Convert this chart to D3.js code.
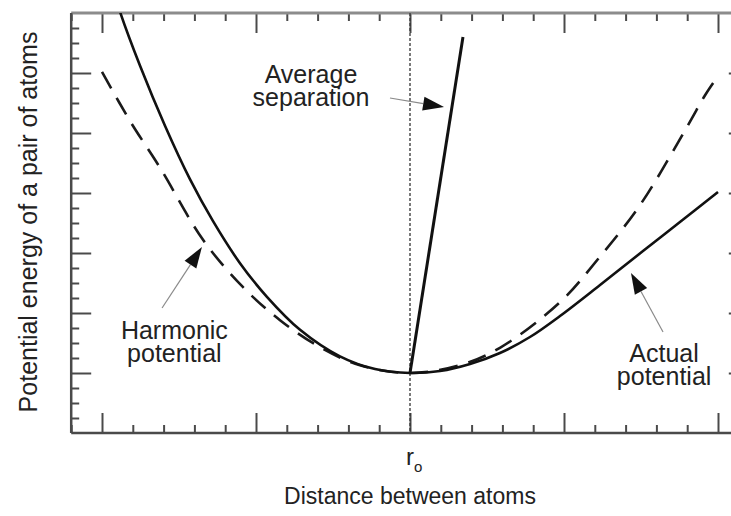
<!DOCTYPE html>
<html>
<head>
<meta charset="utf-8">
<script src="https://cdn.jsdelivr.net/npm/d3@7"></script>
<style>
  html, body { margin: 0; padding: 0; background: #fff; }
  svg { display: block; }
  text { font-family: "Liberation Sans", Arial, Helvetica, sans-serif; fill: #222; }
</style>
</head>
<body>
<svg id="chart" width="731" height="516"></svg>
<script>
// Interatomic distance measured from the equilibrium spacing r0 (one unit per major tick)
const distanceDomain = [-2.2, 2.2];
const energyDomain = [-1, 6];

const distanceMajorTicks = [-2, -1, 0, 1, 2];
const distanceMinorTicks = [-2.2, -1.8, -1.6, -1.4, -1.2, -0.8, -0.6, -0.4, -0.2,
                            0.2, 0.4, 0.6, 0.8, 1.2, 1.4, 1.6, 1.8, 2.2];
const energyMajorTicks = [0, 1, 2, 3, 4, 5];
const energyMinorTicks = [-0.75, -0.5, -0.25, 0.25, 0.5, 0.75, 1.25, 1.5, 1.75,
                          2.25, 2.5, 2.75, 3.25, 3.5, 3.75, 4.25, 4.5, 4.75,
                          5.25, 5.5, 5.75];
const r0Label = "r";
const r0Subscript = "o";

// Actual (anharmonic) potential: [distance, energy]
const actualDistance = [-1.91, -1.883, -1.753, -1.591, -1.429, -1.279, -1.104, -0.929,
                        -0.714, -0.455, -0.227, 0, 0.195, 0.390,
                        0.584, 0.779, 0.974, 1.234, 1.513, 1.753, 2.0];
const actualEnergy   = [6.25, 6.02, 5.12, 4.12, 3.23, 2.53, 1.83, 1.27,
                        0.72, 0.277, 0.065, 0, 0.033, 0.15,
                        0.333, 0.60, 0.95, 1.467, 2.033, 2.517, 3.017];

// Harmonic approximation: [distance, energy]
const harmonicDistance = [-2.0, -1.818, -1.623, -1.344, -1.084, -0.844, -0.584, -0.325,
                          0, 0.325, 0.584, 0.974, 1.221, 1.494, 1.805, 1.916, 2.0];
const harmonicEnergy   = [5.02, 4.20, 3.42, 2.22, 1.43, 0.88, 0.43, 0.13,
                          0, 0.13, 0.42, 1.18, 1.90, 2.80, 4.13, 4.63, 4.95];

// Average separation drifting with energy
const averageDistance = [0, 0.344];
const averageEnergy = [0, 5.6];

// Annotation texts with arrow tail / tip in data units
const annotationLines = [["Average", "separation"], ["Harmonic", "potential"], ["Actual", "potential"]];
const annotationTextAt = [[-0.643, 4.833], [-1.53, 0.567], [1.65, 0.183]];
const arrowTail = [[-0.13, 4.583], [-1.61, 1.083], [1.643, 0.683]];
const arrowTip = [[0.221, 4.433], [-1.351, 2.1], [1.435, 1.667]];

const xLabel = "Distance between atoms";
const yLabel = "Potential energy of a pair of atoms";

const svg = d3.select("#chart");
const x = d3.scaleLinear().domain(distanceDomain).range([71.2, 748.8]);
const y = d3.scaleLinear().domain(energyDomain).range([433, 13]);

const [x0, x1] = x.range();
const [yb, yt] = y.range();

svg.append("defs").append("clipPath").attr("id", "plotClip")
  .append("rect").attr("x", x0).attr("y", yt).attr("width", x1 - x0).attr("height", yb - yt);

const tickColor = "#4a4a4a";
function styleTicks(g, w) {
  g.select(".domain").remove();
  g.selectAll(".tick line").attr("stroke", tickColor).attr("stroke-width", w);
  g.selectAll(".tick text").remove();
}

// Inward-pointing ticks on all four sides
const majorLen = 20, minorLen = 8;
[[d3.axisBottom, yb], [d3.axisTop, yt]].forEach(([ax, pos]) => {
  svg.append("g").attr("transform", `translate(0,${pos})`)
    .call(ax(x).tickValues(distanceMajorTicks).tickSize(-majorLen)).call(g => styleTicks(g, 2));
  svg.append("g").attr("transform", `translate(0,${pos})`)
    .call(ax(x).tickValues(distanceMinorTicks).tickSize(-minorLen)).call(g => styleTicks(g, 2));
});
[[d3.axisLeft, x0], [d3.axisRight, x1]].forEach(([ax, pos]) => {
  svg.append("g").attr("transform", `translate(${pos},0)`)
    .call(ax(y).tickValues(energyMajorTicks).tickSize(-majorLen)).call(g => styleTicks(g, 2));
  svg.append("g").attr("transform", `translate(${pos},0)`)
    .call(ax(y).tickValues(energyMinorTicks).tickSize(-minorLen)).call(g => styleTicks(g, 2));
});

// Frame
svg.append("line").attr("x1", x0).attr("x2", x1).attr("y1", yt).attr("y2", yt)
  .attr("stroke", "#8c8c8c").attr("stroke-width", 3);
svg.append("line").attr("x1", x0).attr("x2", x1).attr("y1", yb).attr("y2", yb)
  .attr("stroke", "#4a4a4a").attr("stroke-width", 2.5);
svg.append("line").attr("x1", x0).attr("x2", x0).attr("y1", yt).attr("y2", yb)
  .attr("stroke", "#4a4a4a").attr("stroke-width", 2.5);
svg.append("line").attr("x1", x1).attr("x2", x1).attr("y1", yt).attr("y2", yb)
  .attr("stroke", "#4a4a4a").attr("stroke-width", 2.5);

// Equilibrium spacing marker
svg.append("line").attr("x1", x(0)).attr("x2", x(0)).attr("y1", yt).attr("y2", yb)
  .attr("stroke", "#333").attr("stroke-width", 1.3).attr("stroke-dasharray", "3,2");

const plot = svg.append("g").attr("clip-path", "url(#plotClip)");
const curve = d3.line().x(d => x(d[0])).y(d => y(d[1])).curve(d3.curveCatmullRom.alpha(0.5));

plot.append("path").datum(d3.zip(harmonicDistance, harmonicEnergy))
  .attr("d", curve).attr("fill", "none").attr("stroke", "#1a1a1a")
  .attr("stroke-width", 2.6).attr("stroke-dasharray", "19,11");
plot.append("path").datum(d3.zip(actualDistance, actualEnergy))
  .attr("d", curve).attr("fill", "none").attr("stroke", "#111").attr("stroke-width", 2.6);
plot.append("path").datum(d3.zip(averageDistance, averageEnergy))
  .attr("d", d3.line().x(d => x(d[0])).y(d => y(d[1]))).attr("fill", "none")
  .attr("stroke", "#111").attr("stroke-width", 3);

// Annotation arrows: thin grey shaft, solid black head
arrowTail.forEach((t, i) => {
  const tx = x(t[0]), ty = y(t[1]);
  const hx = x(arrowTip[i][0]), hy = y(arrowTip[i][1]);
  const ang = Math.atan2(hy - ty, hx - tx);
  const headLen = 21, headHalf = 7;
  const bx = hx - headLen * Math.cos(ang), by = hy - headLen * Math.sin(ang);
  svg.append("line").attr("x1", tx).attr("y1", ty).attr("x2", bx).attr("y2", by)
    .attr("stroke", "#8a8a8a").attr("stroke-width", 1.2);
  const px = -Math.sin(ang) * headHalf, py = Math.cos(ang) * headHalf;
  svg.append("path")
    .attr("d", `M${hx},${hy}L${bx + px},${by + py}L${bx - px},${by - py}Z`)
    .attr("fill", "#111");
});

// Annotation text
annotationLines.forEach((lines, i) => {
  const t = svg.append("text").attr("text-anchor", "middle").style("font-size", "25px");
  lines.forEach((s, j) => {
    t.append("tspan").attr("x", x(annotationTextAt[i][0]))
      .attr("y", y(annotationTextAt[i][1]) + j * 23).text(s);
  });
});

// Axis labels
const r0 = svg.append("text").attr("x", x(0) - 4).attr("y", 465).style("font-size", "24px").text(r0Label);
r0.append("tspan").attr("dy", 7).style("font-size", "15px").text(r0Subscript);

svg.append("text").attr("x", x(0)).attr("y", 504).attr("text-anchor", "middle")
  .style("font-size", "23px").text(xLabel);
svg.append("text").attr("transform", `translate(37,${(yt + yb) / 2 - 1}) rotate(-90)`)
  .attr("text-anchor", "middle").style("font-size", "25px").text(yLabel);
</script>
</body>
</html>
